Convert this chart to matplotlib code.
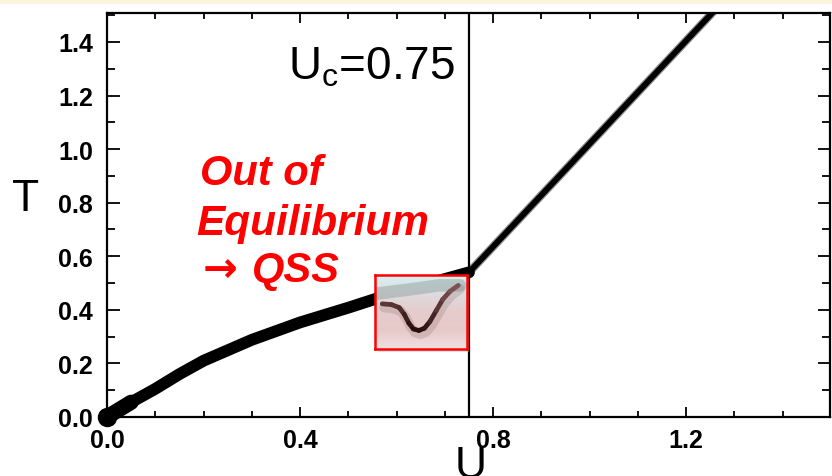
import numpy as np
import matplotlib
matplotlib.use("Agg")
import matplotlib.pyplot as plt
from matplotlib.collections import LineCollection
from matplotlib.patches import Rectangle
from matplotlib.ticker import MultipleLocator

plt.rcParams["font.family"] = ["Liberation Sans", "DejaVu Sans"]
plt.rcParams["mathtext.fontset"] = "custom"
plt.rcParams["mathtext.rm"] = "Liberation Sans"
plt.rcParams["mathtext.it"] = "Liberation Sans:italic"

# Temperature vs. energy density: low-energy branch and high-energy branch
u_low = [0.0, 0.05, 0.1, 0.15, 0.2, 0.3, 0.4, 0.5, 0.56, 0.65, 0.75]
t_low = [0.0, 0.055, 0.105, 0.16, 0.21, 0.288, 0.353, 0.408, 0.443, 0.49, 0.54]
u_high = [0.75, 1.0, 1.26]
t_high = [0.54, 1.02, 1.52]
u_crit = 0.75

x_ticks = [0.0, 0.4, 0.8, 1.2]
y_ticks = [0.0, 0.2, 0.4, 0.6, 0.8, 1.0, 1.2, 1.4]

# Sketch of the QSS dip shown in the inset (box-relative coordinates)
dip_x = [0.08, 0.18, 0.265, 0.32, 0.37, 0.42, 0.48, 0.54, 0.60, 0.67, 0.74, 0.82, 0.91]
dip_y = [0.61, 0.60, 0.56, 0.47, 0.35, 0.27, 0.25, 0.28, 0.37, 0.52, 0.67, 0.78, 0.86]
band_x = [0.03, 0.35, 0.7, 0.93]
band_y = [0.75, 0.80, 0.86, 0.86]

fig = plt.figure(figsize=(8.32, 4.77), dpi=100)
fig.patch.set_facecolor("white")
fig.add_artist(Rectangle((0, 1 - 5 / 477), 1, 5 / 477, transform=fig.transFigure,
                         facecolor="#FCF4DC", edgecolor="none"))

ax = fig.add_axes([107 / 832, 59 / 477, 723 / 832, 404 / 477])
ax.set_xlim(0, 1.498)
ax.set_ylim(0, 1.508)

# low-energy branch: thick trace with a heavy blob at the origin
ax.plot(u_low, t_low, color="black", lw=8.5, solid_capstyle="round",
        solid_joinstyle="round", clip_on=False, zorder=3)
ax.plot(u_low[:2], t_low[:2], color="black", lw=11, solid_capstyle="round",
        clip_on=False, zorder=3)
ax.plot(u_low[:1], t_low[:1], "o", color="black", ms=13, clip_on=False,
        zorder=3)

# high-energy branch
ax.plot(u_high, t_high, color="black", lw=6, alpha=0.45, zorder=3)
ax.plot(u_high, t_high, color="black", lw=4.2, zorder=3)
ax.axvline(u_crit, color="black", lw=1.6, zorder=2)

# axes styling
for s in ax.spines.values():
    s.set_linewidth(1.6)
ax.set_xticks(x_ticks)
ax.set_xticklabels([f"{v:.1f}" for v in x_ticks])
ax.set_yticks(y_ticks)
ax.set_yticklabels([f"{v:.1f}" for v in y_ticks])
ax.xaxis.set_minor_locator(MultipleLocator(0.1))
ax.yaxis.set_minor_locator(MultipleLocator(0.1))
ax.tick_params(axis="both", which="both", direction="in", width=1.3,
               top=True, right=True, labelsize=18)
ax.tick_params(axis="x", which="major", length=7, pad=8)
ax.tick_params(axis="x", which="minor", length=4.5)
ax.tick_params(axis="y", which="major", length=9, pad=10)
ax.tick_params(axis="y", which="minor", length=5.5)
for lab in ax.get_xticklabels() + ax.get_yticklabels():
    lab.set_fontweight("bold")

# annotations
ax.text(0.721, 1.262, r"U$_\mathrm{c}$=0.75", fontsize=33, ha="right",
        va="baseline", zorder=5)
fig.text(26 / 832, 0.581, "T", fontsize=32, ha="center", va="center")
fig.text(471 / 832, 0.066, "U", fontsize=32, ha="center", va="top")

red = "#FF0000"
fig.text(200 / 832, (477 - 185) / 477, "Out of", color=red, fontsize=30,
         fontweight="bold", fontstyle="italic", va="baseline")
fig.text(196 / 832, (477 - 235) / 477, "Equilibrium", color=red, fontsize=30.5,
         fontweight="bold", fontstyle="italic", va="baseline")
fig.text(203 / 832, (477 - 282) / 477, "\u2192", color=red, fontsize=30,
         fontweight="bold", va="baseline", family="DejaVu Sans")
fig.text(252 / 832, (477 - 282) / 477, "QSS", color=red, fontsize=30,
         fontweight="bold", fontstyle="italic", va="baseline")

# inset box with drop shadow
box = [0.555, 0.254, 0.19, 0.276]
ax.add_patch(Rectangle((box[0] + 0.006, box[1] - 0.012), box[2], box[3],
                       facecolor="#BBBBBB", edgecolor="none", alpha=0.45,
                       zorder=6))
ins = ax.inset_axes(box, transform=ax.transData, zorder=7)
grad_colors = np.array([
    [0.94, 0.88, 0.88],
    [0.91, 0.79, 0.79],
    [0.90, 0.80, 0.80],
    [0.87, 0.86, 0.87],
    [0.84, 0.95, 0.95],
])
yy = np.linspace(0, 1, 200)
pos = np.linspace(0, 1, len(grad_colors))
img = np.stack([np.interp(yy, pos, grad_colors[:, c]) for c in range(3)], axis=1)
img = np.repeat(img[:, None, :], 10, axis=1)
ins.imshow(img, extent=[0, 1, 0, 1], origin="lower", aspect="auto")
ins.plot(band_x, band_y, color="#8a9a9a", lw=9, alpha=0.45,
         solid_capstyle="round")
ins.plot(np.array(dip_x) + 0.02, np.array(dip_y) - 0.05, color="#806060",
         lw=7, alpha=0.22, solid_capstyle="round", solid_joinstyle="round")
pts = np.column_stack([dip_x, dip_y])
segs = np.stack([pts[:-1], pts[1:]], axis=1)
shade = np.array(dip_y[:-1]) + np.array(dip_y[1:])
shade = (shade - shade.min()) / (shade.max() - shade.min())
seg_cols = [(0.16 + 0.32 * s, 0.05 + 0.27 * s, 0.05 + 0.27 * s) for s in shade]
ins.add_collection(LineCollection(segs, colors=seg_cols, linewidths=3.4,
                                  capstyle="round", joinstyle="round"))
ins.set_xlim(0, 1)
ins.set_ylim(0, 1)
ins.set_xticks([])
ins.set_yticks([])
for s in ins.spines.values():
    s.set_color(red)
    s.set_linewidth(1.8)

fig.savefig("out.png", dpi=100, facecolor=fig.get_facecolor())
